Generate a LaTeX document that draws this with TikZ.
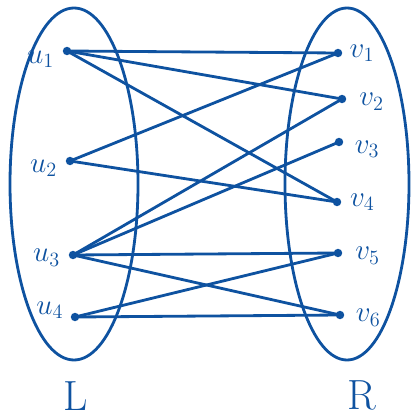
\documentclass[tikz,border=0pt]{standalone}
\usetikzlibrary{positioning}
\definecolor{pen}{RGB}{14,82,160}
\begin{document}
\begin{tikzpicture}[x=0.025cm,y=-0.025cm,line width=2pt,draw=pen,
    dot/.style={circle,fill=pen,inner sep=0pt,minimum size=6pt},
    lab/.style={text=pen,font=\huge}]
        \useasboundingbox (0,0) rectangle (411,419);

        % 绘制两个集合 L 和 R
        \draw[pen] (74,184) ellipse (64 and 176);
        \draw[pen] (347,184) ellipse (62 and 176);
        \node[lab,font=\fontsize{30}{34}\selectfont] (L) at (76,396) {L};
        \node[lab,font=\fontsize{30}{34}\selectfont] (R) at (362,395) {R};

        % 左侧顶点
        \node[dot] (u1) at (67,51) {};
        \node[dot] (u2) at (70,161) {};
        \node[dot] (u3) at (73,255) {};
        \node[dot] (u4) at (75,317) {};
        \node[lab,left=1pt of u1,yshift=-6pt] {$u_1$};
        \node[lab,left=1pt of u2,yshift=-5pt] {$u_2$};
        \node[lab,left=1pt of u3,yshift=-2pt] {$u_3$};
        \node[lab,left=0pt of u4,yshift=5pt] {$u_4$};

        % 右侧顶点
        \node[dot] (v1) at (338,53) {};
        \node[dot] (v2) at (342,99) {};
        \node[dot] (v3) at (339,142) {};
        \node[dot] (v4) at (337,202) {};
        \node[dot] (v5) at (338,253) {};
        \node[dot] (v6) at (340,315) {};
        \node[lab,right=0pt of v1] {$v_1$};
        \node[lab,right=4pt of v2,yshift=-2pt] {$v_2$};
        \node[lab,right=3pt of v3,yshift=-5pt] {$v_3$};
        \node[lab,right=1pt of v4] {$v_4$};
        \node[lab,right=4pt of v5,yshift=-2pt] {$v_5$};
        \node[lab,right=3pt of v6,yshift=-2pt] {$v_6$};

        % 绘制边
        \foreach \a/\b in {u1/v1,u1/v2,u1/v4,u2/v1,u2/v4,u3/v2,u3/v3,u3/v5,u3/v6,u4/v5,u4/v6}
            \draw[pen] (\a.center) -- (\b.center);
    \end{tikzpicture}
\end{document}
